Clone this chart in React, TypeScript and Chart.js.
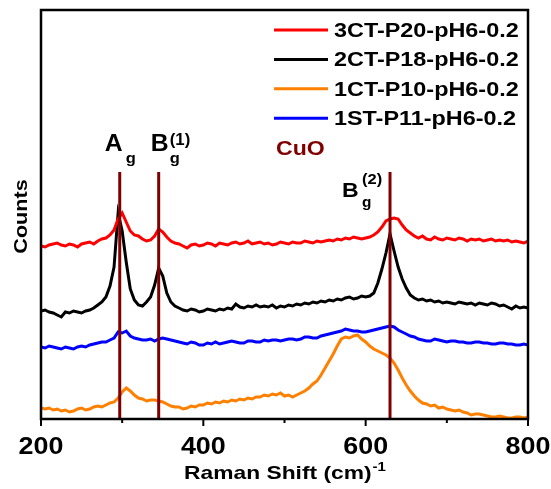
import React, { useEffect, useRef } from "react";
import { Chart, registerables } from "chart.js";

Chart.register(...registerables);

// ---------- data ----------
const seriesNames = ["3CT-P20-pH6-0.2", "2CT-P18-pH6-0.2", "1CT-P10-pH6-0.2", "1ST-P11-pH6-0.2"];
const seriesColors = ["#ff0000", "#000000", "#ff8000", "#0000ff"];

// Raman shift (cm^-1)
const ramanShift = [
  200,205,210,215,220,225,230,235,240,245,250,255,260,265,270,275,280,285,290,295,
  300,305,310,315,320,325,330,335,340,345,350,355,360,365,370,375,380,385,390,395,
  400,405,410,415,420,425,430,435,440,445,450,455,460,465,470,475,480,485,490,495,
  500,505,510,515,520,525,530,535,540,545,550,555,560,565,570,575,580,585,590,595,
  600,605,610,615,620,625,630,635,640,645,650,655,660,665,670,675,680,685,690,695,
  700,705,710,715,720,725,730,735,740,745,750,755,760,765,770,775,780,785,790,795,800,
];

const counts3CT = [
  173,172,174,175,176,174,173,175,174,172,175,176,177,175,178,180,181,184,189,200,
  206,197,188,184,183,180,178,179,183,190,187,182,178,176,175,173,171,174,175,173,
  174,176,175,173,176,175,174,176,177,175,176,178,175,176,177,175,176,174,175,177,
  176,175,177,176,176,178,177,176,178,177,178,179,178,180,179,181,180,182,181,180,
  181,182,184,187,192,198,200,201,200,194,189,186,183,181,183,180,179,182,180,179,
  181,180,179,181,180,178,180,179,180,178,179,180,178,179,178,179,177,178,177,176,178,
];

const counts2CT = [
  108,109,107,106,104,102,107,106,108,107,106,108,109,111,114,117,122,133,152,206,
  188,157,130,119,114,113,117,122,134,151,143,126,117,113,111,109,108,110,109,107,
  108,110,109,108,110,109,111,110,115,112,111,113,112,114,112,113,112,114,111,113,
  112,114,113,115,114,116,115,117,116,118,117,119,118,120,119,121,122,120,121,123,
  122,123,126,136,150,166,185,168,152,140,131,124,121,119,120,118,119,117,118,116,
  117,116,115,117,116,115,116,114,116,115,114,116,115,113,114,112,110,113,111,112,111,
];

const counts1CT = [
  11,10,11,9,10,8,9,7,8,10,11,9,10,12,13,12,14,16,17,21,
  27,31,28,24,21,20,18,19,19,18,17,15,13,12,12,10,11,13,12,14,
  14,16,15,17,16,18,17,19,18,20,19,21,20,22,22,24,23,25,24,26,
  23,24,22,24,26,28,31,35,38,44,51,58,65,73,80,82,81,83,84,80,
  77,73,70,68,66,64,61,56,49,41,34,28,23,19,16,15,13,14,11,12,
  10,9,8,9,7,6,4,5,5,4,3,2,2,3,2,1,1,2,2,1,2,
];

const counts1ST = [
  72,71,73,72,71,70,72,71,70,72,73,72,74,75,76,77,77,79,81,87,
  86,88,83,81,80,79,79,80,78,80,81,80,79,78,77,76,75,77,76,74,
  74,76,75,77,75,76,77,78,77,76,76,78,78,77,77,79,78,79,79,78,
  79,80,80,79,80,82,82,81,81,83,84,85,86,87,88,90,89,88,88,87,
  87,88,89,90,91,92,93,92,89,87,85,83,82,80,79,78,78,80,79,78,
  77,78,78,77,77,76,76,77,77,76,76,75,75,76,76,75,75,74,74,75,74,
];

const cuoModes = [297, 345, 630];
const cuoLineTop = 247;

const xMajorTicks = [200, 400, 600, 800];
const xMinorTicks = [300, 500, 700];
const xTickLabels = ["200", "400", "600", "800"];

const FONT = '"Liberation Sans", Arial, Helvetica, sans-serif';
const CUO_COLOR = "#800000";

function zip(xs: number[], ys: number[]) {
  return xs.map((x, i) => ({ x, y: ys[i] }));
}

function text(
  ctx: CanvasRenderingContext2D,
  s: string,
  x: number,
  y: number,
  size: number,
  sx = 1.2,
  color = "#000",
  align: CanvasTextAlign = "left",
  rotate = 0
) {
  ctx.save();
  ctx.translate(x, y);
  if (rotate) ctx.rotate(rotate);
  ctx.scale(sx, 1);
  ctx.font = `bold ${size}px ${FONT}`;
  ctx.fillStyle = color;
  ctx.textAlign = align;
  ctx.textBaseline = "alphabetic";
  ctx.fillText(s, 0, 0);
  ctx.restore();
}

function measure(ctx: CanvasRenderingContext2D, s: string, size: number, sx = 1.2) {
  ctx.save();
  ctx.font = `bold ${size}px ${FONT}`;
  const w = ctx.measureText(s).width * sx;
  ctx.restore();
  return w;
}

const decorPlugin = {
  id: "decor",
  afterDatasetsDraw(chart: any) {
    const ctx: CanvasRenderingContext2D = chart.ctx;
    const { left, right, top, bottom } = chart.chartArea;
    const xs = chart.scales.x;
    ctx.save();
    // frame
    ctx.strokeStyle = "#000";
    ctx.lineWidth = 2.5;
    ctx.strokeRect(left, top, right - left, bottom - top);
    // ticks
    ctx.lineWidth = 2;
    xMajorTicks.forEach((v) => {
      const p = xs.getPixelForValue(v);
      ctx.beginPath();
      ctx.moveTo(p, bottom);
      ctx.lineTo(p, bottom + 7);
      ctx.stroke();
    });
    xMinorTicks.forEach((v) => {
      const p = xs.getPixelForValue(v);
      ctx.beginPath();
      ctx.moveTo(p, bottom);
      ctx.lineTo(p, bottom + 4);
      ctx.stroke();
    });
    // tick labels
    xMajorTicks.forEach((v, i) => {
      text(ctx, xTickLabels[i], xs.getPixelForValue(v), bottom + 35, 23, 1.17, "#000", "center");
    });
    // x title
    const mainT = "Raman Shift (cm)";
    const supT = "-1";
    const wMain = measure(ctx, mainT, 19, 1.2);
    const wSup = measure(ctx, supT, 12.5, 1.2);
    const cx = (left + right) / 2;
    const tx = cx - (wMain + wSup) / 2;
    text(ctx, mainT, tx, bottom + 60, 19, 1.2);
    text(ctx, supT, tx + wMain + 1, bottom + 52, 12.5, 1.2);
    // y title
    text(ctx, "Counts", 27, (top + bottom) / 2 + 2, 18, 1.2, "#000", "center", -Math.PI / 2);

    // legend
    seriesNames.forEach((name, i) => {
      const y = top + 20 + i * 29.4;
      ctx.strokeStyle = seriesColors[i];
      ctx.lineWidth = 3;
      ctx.beginPath();
      ctx.moveTo(274, y);
      ctx.lineTo(328, y);
      ctx.stroke();
      text(ctx, name, 334, y + 7, 19.5, 1.2);
    });

    // mode labels
    const pA = xs.getPixelForValue(cuoModes[0]);
    text(ctx, "A", pA - 15, 151, 24, 1.03);
    text(ctx, "g", pA + 6, 163, 15, 1.1);
    const pB1 = xs.getPixelForValue(cuoModes[1]);
    text(ctx, "B", pB1 - 8, 151, 24, 1.03);
    text(ctx, "g", pB1 + 11, 163, 15, 1.1);
    text(ctx, "(1)", pB1 + 11, 145, 16, 1.05);
    const pB2 = xs.getPixelForValue(cuoModes[2]);
    text(ctx, "B", pB2 - 48, 197, 21, 1.1);
    text(ctx, "g", pB2 - 28, 207, 14, 1.1);
    text(ctx, "(2)", pB2 - 28, 184, 15, 1.1);
    text(ctx, "CuO", 276, 155, 21, 1.1, CUO_COLOR);
    ctx.restore();
  },
};

export default function App() {
  const ref = useRef<HTMLCanvasElement | null>(null);
  useEffect(() => {
    if (!ref.current) return;
    const curve = (ys: number[], color: string) => ({
      data: zip(ramanShift, ys),
      borderColor: color,
      backgroundColor: color,
      borderWidth: 3,
      pointRadius: 0,
      tension: 0,
      fill: false,
    });
    const vlines = cuoModes.map((m) => ({
      data: [
        { x: m, y: 0 },
        { x: m, y: cuoLineTop },
      ],
      borderColor: CUO_COLOR,
      backgroundColor: CUO_COLOR,
      borderWidth: 3,
      pointRadius: 0,
      fill: false,
    }));
    const chart = new Chart(ref.current, {
      type: "line",
      data: {
        datasets: [
          ...vlines,
          curve(counts3CT, seriesColors[0]),
          curve(counts2CT, seriesColors[1]),
          curve(counts1CT, seriesColors[2]),
          curve(counts1ST, seriesColors[3]),
        ] as any,
      },
      options: {
        animation: false,
        responsive: true,
        maintainAspectRatio: false,
        layout: { padding: { left: 41, right: 23, top: 10, bottom: 70 } },
        plugins: { legend: { display: false }, tooltip: { enabled: false } },
        scales: {
          x: { type: "linear", min: 200, max: 800, display: false },
          y: { type: "linear", min: 0, max: 409, display: false },
        },
      },
      plugins: [decorPlugin],
    });
    return () => chart.destroy();
  }, []);
  return (
    <div style={{ position: "fixed", left: 0, top: 0, width: 551, height: 489, background: "#fff" }}>
      <canvas ref={ref} />
    </div>
  );
}
